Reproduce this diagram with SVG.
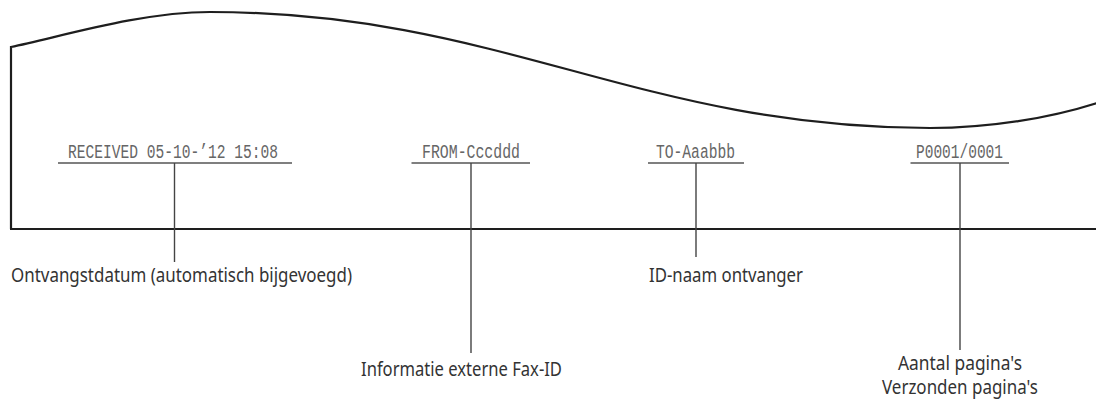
<svg xmlns="http://www.w3.org/2000/svg" width="1096" height="399" viewBox="0 0 1096 399">
<style>
.outline{fill:none;stroke:#1e1e1e;stroke-width:2.2}
.mono{font-family:"Liberation Mono","Courier New",monospace;font-size:20px;fill:#666}
.ul{stroke:#555;stroke-width:1.6}
.lead{stroke:#444;stroke-width:1.4;fill:none}
.lbl{font-family:"Noto Sans","Open Sans",sans-serif;font-size:19px;fill:#333}
</style>
<rect width="1096" height="399" fill="#fff"/>
<g id="paper">
<path class="outline" d="M11,229 L11,47 C60,37 140,12 210,12 C500,12 640,128 930,128 C990,128 1050,118 1097,103"/>
<path class="outline" d="M10,229 L1096,229"/>
</g>
<g id="received">
<text class="mono" x="68" y="158" textLength="210" lengthAdjust="spacingAndGlyphs">RECEIVED 05-10-’12 15:08</text>
<line class="ul" x1="58" y1="163" x2="292" y2="163"/>
</g>
<g id="from">
<text class="mono" x="422" y="158" textLength="98" lengthAdjust="spacingAndGlyphs">FROM-Cccddd</text>
<line class="ul" x1="411.5" y1="163" x2="530" y2="163"/>
</g>
<g id="to">
<text class="mono" x="656" y="158" textLength="79" lengthAdjust="spacingAndGlyphs">TO-Aaabbb</text>
<line class="ul" x1="648" y1="163" x2="744" y2="163"/>
</g>
<g id="pages">
<text class="mono" x="916" y="158" textLength="87" lengthAdjust="spacingAndGlyphs">P0001/0001</text>
<line class="ul" x1="910.5" y1="163" x2="1009" y2="163"/>
</g>
<g id="connectors">
<line class="lead" x1="174.5" y1="163" x2="174.5" y2="262"/>
<line class="lead" x1="471" y1="163" x2="471" y2="353"/>
<line class="lead" x1="696" y1="163" x2="696" y2="257"/>
<line class="lead" x1="960" y1="163" x2="960" y2="350"/>
</g>
<g id="label-date">
<text class="lbl" x="11" y="282" textLength="341" lengthAdjust="spacingAndGlyphs">Ontvangstdatum (automatisch bijgevoegd)</text>
</g>
<g id="label-from">
<text class="lbl" x="361" y="376" textLength="201" lengthAdjust="spacingAndGlyphs">Informatie externe Fax-ID</text>
</g>
<g id="label-to">
<text class="lbl" x="649" y="282" textLength="154" lengthAdjust="spacingAndGlyphs">ID-naam ontvanger</text>
</g>
<g id="label-pages">
<text class="lbl" x="960" y="370" text-anchor="middle" textLength="124" lengthAdjust="spacingAndGlyphs">Aantal pagina's</text>
<text class="lbl" x="960" y="394" text-anchor="middle" textLength="156" lengthAdjust="spacingAndGlyphs">Verzonden pagina's</text>
</g>
</svg>
